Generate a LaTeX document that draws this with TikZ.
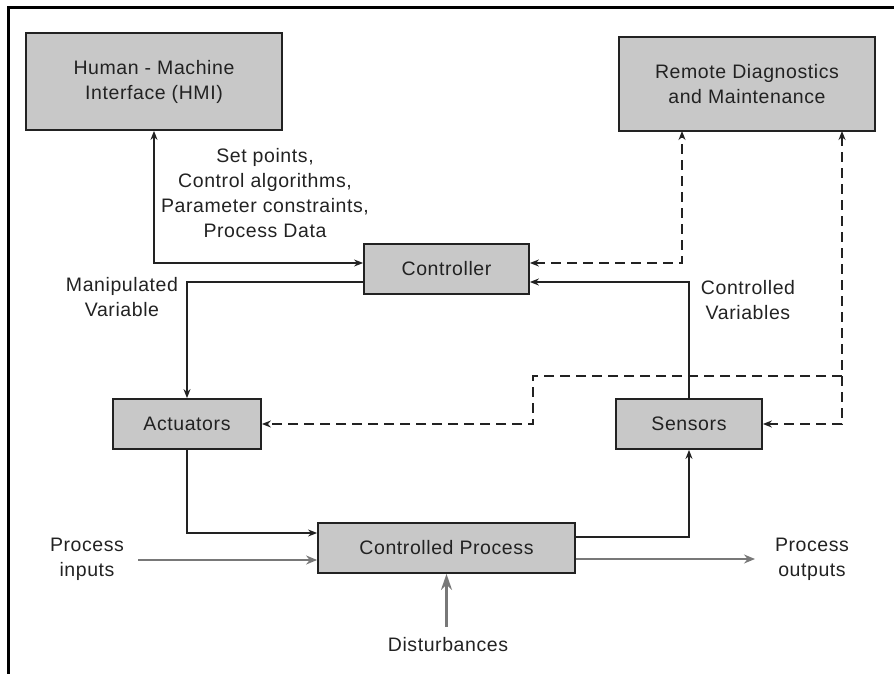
\documentclass[tikz,border=0pt]{standalone}
\usepackage{fontspec}
\setmainfont{Liberation Sans}[LetterSpace=3.0]
\usetikzlibrary{arrows.meta,positioning}
\definecolor{boxfill}{RGB}{200,200,200}
\definecolor{ink}{RGB}{34,34,34}
\definecolor{flow}{RGB}{120,120,120}
\begin{document}
\begin{tikzpicture}[x=1pt,y=-1pt,
  txt/.style={font=\fontsize{19.5}{25}\selectfont, text=ink, align=center, inner sep=0pt},
  blk/.style={txt, draw=ink, line width=1.8pt, fill=boxfill},
  link/.style={draw=ink, line width=1.4pt, -{Stealth[length=9pt,width=7pt]}},
  dlink/.style={link, dash pattern=on 10pt off 6pt},
  gflow/.style={draw=flow, line width=1.6pt, -{Stealth[length=11pt,width=9pt]}}
]
\useasboundingbox (0,0) rectangle (894,674);
\draw[line width=3pt, black] (8,674) -- (8,8) -- (894,8);

\node[blk, minimum width=256pt, minimum height=97pt] (hmi) at (154,81.5) {Human - Machine\\Interface (HMI)};
\node[blk, minimum width=256pt, minimum height=94pt] (rdm) at (747,84) {Remote Diagnostics\\and Maintenance};
\node[blk, minimum width=165pt, minimum height=50pt] (ctrl) at (446.5,269) {Controller};
\node[blk, minimum width=148pt, minimum height=50pt] (act) at (187,424) {Actuators};
\node[blk, minimum width=146pt, minimum height=50pt] (sen) at (689,424) {Sensors};
\node[blk, minimum width=257pt, minimum height=50pt] (proc) at (446.5,548) {Controlled Process};

\node[txt] (setp) at (265,193.5) {Set points,\\Control algorithms,\\Parameter constraints,\\Process Data};
\node[txt] (manv) at (122,297) {Manipulated\\Variable};
\node[txt] (conv) at (748,300) {Controlled\\Variables};
\node[txt] (pin) at (87,559) {Process\\inputs};
\node[txt] (pout) at (812,559) {Process\\outputs};
\node[txt] (dist) at (448,645) {Disturbances};

\coordinate (pinend) at (138,560);
\coordinate (poutend) at (755,559);
\coordinate (distend) at (446.5,627);
\coordinate (rdmA) at (682,131);
\coordinate (rdmB) at (842,131);
\coordinate (brR) at (842,376);
\coordinate (brL) at (533,376);

% solid loop
\draw[link, {Stealth[length=9pt,width=7pt]}-{Stealth[length=9pt,width=7pt]}] (hmi.south) |- ([yshift=6pt]ctrl.west);
\draw[link] ([yshift=-13pt]ctrl.west) -| (act.north);
\draw[link] (sen.north) |- ([yshift=-13pt]ctrl.east);
\draw[link] (act.south) |- ([yshift=15pt]proc.west);
\draw[link] ([yshift=11pt]proc.east) -| (sen.south);

% process flows
\draw[gflow] (pinend) -- (pinend -| proc.west);
\draw[gflow] (poutend -| proc.east) -- (poutend);
\draw[gflow, line width=2.2pt, -{Stealth[length=16pt,width=11pt]}] (distend) -- (proc.south);

% dashed remote links
\draw[dlink, {Stealth[length=9pt,width=7pt]}-{Stealth[length=9pt,width=7pt]}] ([yshift=6pt]ctrl.east) -| (rdmA);
\draw[dlink, {Stealth[length=9pt,width=7pt]}-{Stealth[length=9pt,width=7pt]}] (sen.east) -| (rdmB);
\draw[dlink] (brR) -- (brL) |- (act.east);
\end{tikzpicture}
\end{document}
